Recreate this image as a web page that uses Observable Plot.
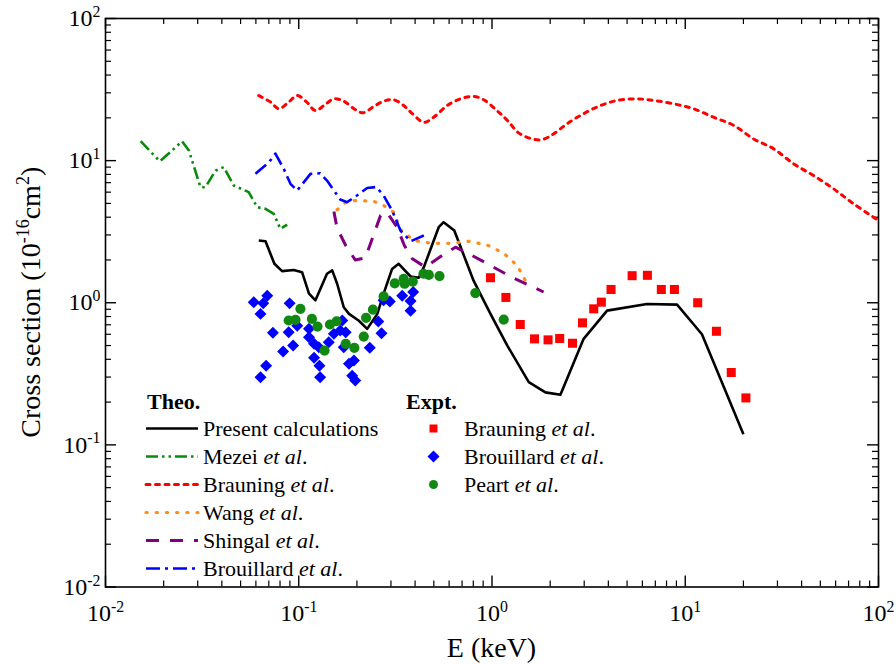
<!DOCTYPE html>
<html>
<head>
<meta charset="utf-8">
<script src="https://cdn.jsdelivr.net/npm/d3@7"></script>
<script src="https://cdn.jsdelivr.net/npm/@observablehq/plot@0.6"></script>
<style>
  html, body { margin: 0; padding: 0; background: #fff; }
  #chart { width: 896px; height: 664px; }
</style>
</head>
<body>
<div id="chart"></div>
<script>
// Cross sections (10^-16 cm^2) against projectile energy E (keV): [E, sigma]
const present = [[0.0621,2.74],[0.0673,2.71],[0.0748,1.88],[0.0820,1.67],[0.0942,1.70],[0.104,1.64],[0.113,1.16],[0.122,1.04],[0.140,1.60],[0.149,1.69],[0.158,1.36],[0.171,0.93],[0.182,0.835],[0.204,0.75],[0.226,0.655],[0.255,0.835],[0.275,1.16],[0.304,1.73],[0.329,1.88],[0.379,1.53],[0.418,1.50],[0.444,1.78],[0.530,3.40],[0.562,3.69],[0.638,3.22],[0.803,1.43],[0.982,0.835],[1.20,0.50],[1.55,0.276],[1.89,0.234],[2.26,0.225],[2.98,0.557],[3.94,0.88],[6.34,0.98],[9.07,0.97],[12.2,0.60],[20.0,0.119]];
const mezei = [[0.0152,13.7],[0.0175,11.2],[0.0191,9.9],[0.0217,11.5],[0.0249,13.7],[0.0270,11.8],[0.0310,6.5],[0.0329,6.5],[0.0371,8.5],[0.0409,9.0],[0.0461,6.68],[0.0551,6.0],[0.0610,4.70],[0.0673,4.58],[0.0743,4.22],[0.0803,3.31],[0.0871,3.55]];
const brauningTheo = [[0.0621,28.7],[0.0715,25.8],[0.0789,23.2],[0.0887,25.8],[0.0982,28.7],[0.110,25.8],[0.122,22.5],[0.137,24.8],[0.152,27.2],[0.171,26.2],[0.193,23.2],[0.215,21.7],[0.244,24.0],[0.275,26.2],[0.310,26.8],[0.349,24.4],[0.387,21.4],[0.444,18.6],[0.499,20.2],[0.586,24.4],[0.687,27.2],[0.803,28.3],[0.906,26.8],[1.06,22.5],[1.20,19.2],[1.40,15.4],[1.78,14.0],[2.08,15.4],[2.45,18.2],[2.98,21.4],[3.64,24.4],[4.44,26.5],[5.63,27.2],[6.87,26.5],[8.71,25.1],[11.0,23.2],[14.0,20.2],[17.8,17.7],[22.6,14.2],[28.7,12.1],[36.4,9.49],[46.1,7.85],[58.6,6.33],[74.3,4.97],[100,3.79]];
const wang = [[0.158,4.51],[0.178,5.18],[0.200,5.24],[0.244,5.18],[0.275,4.83],[0.310,4.33],[0.336,3.27],[0.394,2.74],[0.490,2.62],[0.610,2.62],[0.759,2.71],[0.944,2.55],[1.15,2.23],[1.35,1.83],[1.52,1.36]];
const shingal = [[0.152,4.38],[0.158,3.33],[0.175,2.53],[0.196,2.00],[0.221,2.07],[0.240,2.82],[0.265,4.11],[0.286,4.33],[0.323,3.40],[0.352,2.53],[0.387,2.04],[0.452,1.78],[0.552,2.15],[0.647,2.46],[0.789,2.15],[0.982,1.83],[1.27,1.51],[1.85,1.19]];
const brouillardTheo = [[0.0597,8.07],[0.0700,9.70],[0.0757,11.2],[0.0835,8.8],[0.0906,6.87],[0.0982,6.16],[0.115,8.07],[0.129,8.15],[0.140,7.24],[0.164,5.32],[0.178,5.10],[0.200,5.68],[0.226,6.42],[0.252,6.52],[0.275,5.68],[0.304,4.46],[0.336,3.22],[0.379,2.71],[0.444,2.97]];
const brauningExp = [[0.982,1.50],[1.18,1.09],[1.40,0.703],[1.66,0.557],[1.95,0.548],[2.24,0.560],[2.61,0.519],[2.94,0.722],[3.36,0.906],[3.68,1.01],[4.13,1.24],[5.31,1.55],[6.37,1.56],[7.52,1.24],[8.79,1.24],[11.6,1.00],[14.5,0.63],[17.3,0.323],[20.6,0.214]];
const brouillardExp = [[0.0585,1.01],[0.0687,1.12],[0.0655,0.99],[0.0634,0.835],[0.0735,0.614],[0.0678,0.361],[0.0634,0.299],[0.0830,0.454],[0.0897,0.99],[0.0887,0.62],[0.0935,0.50],[0.0982,0.69],[0.113,0.655],[0.113,0.571],[0.120,0.514],[0.127,0.486],[0.120,0.41],[0.128,0.361],[0.129,0.299],[0.143,0.527],[0.152,0.604],[0.168,0.75],[0.164,0.637],[0.175,0.62],[0.171,0.486],[0.182,0.372],[0.193,0.392],[0.189,0.307],[0.196,0.284],[0.233,0.482],[0.258,0.738],[0.268,0.61],[0.275,1.04],[0.296,1.02],[0.343,1.12],[0.391,1.19],[0.379,1.03],[0.379,0.88]];
const peart = [[0.0887,0.75],[0.0962,0.758],[0.102,0.906],[0.117,0.77],[0.125,0.68],[0.136,0.461],[0.145,0.703],[0.157,0.741],[0.175,0.514],[0.194,0.482],[0.217,0.578],[0.223,0.783],[0.242,0.896],[0.275,1.11],[0.314,1.37],[0.349,1.47],[0.353,1.36],[0.389,1.41],[0.442,1.60],[0.471,1.57],[0.535,1.54],[0.820,1.17],[1.15,0.762]];

// Axis ticks
const majorTicks = [0.01, 0.1, 1, 10, 100];
const minorTicks = [];
for (const decade of [0.01, 0.1, 1, 10]) for (let m = 2; m <= 9; m++) minorTicks.push(+(m * decade).toPrecision(3));

// Legend entries
const theoNames = ["Present calculations", "Mezei", "Brauning", "Wang", "Shingal", "Brouillard"];
const exptNames = ["Brauning", "Brouillard", "Peart"];

// Line styles for the theoretical curves
const lineStyles = [
  {data: present, stroke: "#000000", strokeWidth: 2.6, dash: null, cap: "butt", curve: "linear"},
  {data: mezei, stroke: "#0a8a0a", strokeWidth: 2.6, dash: "12,4,2.5,4,2.5,4", cap: "butt", curve: "linear"},
  {data: brauningTheo, stroke: "#ff0000", strokeWidth: 3, dash: "4,5.5", cap: "round", curve: "catmull-rom"},
  {data: wang, stroke: "#ff8c1a", strokeWidth: 3.2, dash: "1.2,9", cap: "round", curve: "linear"},
  {data: shingal, stroke: "#800080", strokeWidth: 3, dash: "13,11", cap: "butt", curve: "linear"},
  {data: brouillardTheo, stroke: "#0000ff", strokeWidth: 2.6, dash: "14,5,3,5", cap: "butt", curve: "linear"}
];
const dotStyles = [
  {data: brauningExp, fill: "#ff0000", symbol: "square", r: 5.1},
  {data: brouillardExp, fill: "#0000ff", symbol: "diamond2", r: 5.4},
  {data: peart, fill: "#118811", symbol: "circle", r: 5.1}
];

const W = 896, H = 664;
const M = {top: 18, right: 18, bottom: 77.5, left: 105};
const frameW = W - M.left - M.right, frameH = H - M.top - M.bottom;
const majorLen = 11, minorLen = 6;
const serif = "'Liberation Serif', 'Times New Roman', Times, serif";
const exponent = d => String(Math.round(Math.log10(d)));

const tickMarks = (ticks, len, sw) => [
  Plot.ruleX(ticks, {insetTop: frameH - len, stroke: "black", strokeWidth: sw}),
  Plot.ruleX(ticks, {insetBottom: frameH - len, stroke: "black", strokeWidth: sw}),
  Plot.ruleY(ticks, {insetRight: frameW - len, stroke: "black", strokeWidth: sw}),
  Plot.ruleY(ticks, {insetLeft: frameW - len, stroke: "black", strokeWidth: sw})
];

const plot = Plot.plot({
  width: W, height: H,
  marginTop: M.top, marginRight: M.right, marginBottom: M.bottom, marginLeft: M.left,
  x: {type: "log", domain: [0.01, 100]},
  y: {type: "log", domain: [0.01, 100]},
  style: {fontFamily: serif, background: "white", color: "black", overflow: "visible"},
  marks: [
    ...tickMarks(minorTicks, minorLen, 1.2),
    ...tickMarks(majorTicks, majorLen, 1.4),
    Plot.axisX({ticks: majorTicks, tickSize: 0, tickPadding: 17, tickFormat: exponent, fontSize: 24, label: null}),
    Plot.axisY({ticks: majorTicks, tickSize: 0, tickPadding: 5, tickFormat: exponent, fontSize: 24, label: null}),
    ...lineStyles.map(s => Plot.line(s.data, {
      x: d => d[0], y: d => d[1], stroke: s.stroke, strokeWidth: s.strokeWidth,
      strokeDasharray: s.dash, strokeLinecap: s.cap, strokeLinejoin: "round", curve: s.curve
    })),
    ...dotStyles.map(s => Plot.dot(s.data, {
      x: d => d[0], y: d => d[1], fill: s.fill, symbol: s.symbol, r: s.r, stroke: "none"
    })),
    Plot.frame({stroke: "black", strokeWidth: 1.6})
  ]
});

const svg = d3.select(plot);

// Tick labels as powers of ten
svg.selectAll('g[aria-label="x-axis tick label"] text, g[aria-label="y-axis tick label"] text').each(function () {
  const e = this.textContent;
  const t = d3.select(this);
  t.text("10");
  t.append("tspan").attr("dy", "-0.58em").attr("font-size", "0.66em").text(e);
});

// Axis titles
svg.append("text")
  .attr("x", M.left + frameW / 2).attr("y", 657)
  .attr("text-anchor", "middle").attr("font-family", serif).attr("font-size", 28)
  .text("E (keV)");

const yTitle = svg.append("text")
  .attr("transform", `translate(40,${M.top + frameH / 2}) rotate(-90)`)
  .attr("text-anchor", "middle").attr("font-family", serif).attr("font-size", 28);
yTitle.append("tspan").text("Cross section (10");
yTitle.append("tspan").attr("dy", -11).attr("font-size", 18).text("-16");
yTitle.append("tspan").attr("dy", 11).text("cm");
yTitle.append("tspan").attr("dy", -11).attr("font-size", 18).text("2");
yTitle.append("tspan").attr("dy", 11).text(")");

// Legend
const lg = svg.append("g")
  .attr("font-family", serif).attr("font-size", 22).attr("fill", "black")
  .attr("text-anchor", "start");
const rowY = i => 428.5 + i * 28;
const label = (g, x, y, name) => {
  const t = g.append("text").attr("x", x).attr("y", y + 7).attr("text-anchor", "start");
  if (name === "Present calculations") { t.text(name); return; }
  t.append("tspan").text(name + " ");
  t.append("tspan").attr("font-style", "italic").text("et al");
  t.append("tspan").text(".");
};
lg.append("text").attr("x", 147).attr("y", 409).attr("font-weight", "bold").text("Theo.");
theoNames.forEach((name, i) => {
  const s = lineStyles[i];
  lg.append("line").attr("x1", 146).attr("x2", 198).attr("y1", rowY(i)).attr("y2", rowY(i))
    .attr("stroke", s.stroke).attr("stroke-width", s.strokeWidth)
    .attr("stroke-dasharray", s.dash).attr("stroke-linecap", s.cap);
  label(lg, 203, rowY(i), name);
});
lg.append("text").attr("x", 406).attr("y", 409).attr("font-weight", "bold").text("Expt.");
exptNames.forEach((name, i) => {
  const s = dotStyles[i];
  const cx = 433.5, cy = rowY(i);
  if (s.symbol === "square") {
    lg.append("rect").attr("x", cx - 4).attr("y", cy - 4).attr("width", 8).attr("height", 8).attr("fill", s.fill);
  } else if (s.symbol === "diamond2") {
    lg.append("path").attr("d", `M${cx},${cy - 6}L${cx + 6},${cy}L${cx},${cy + 6}L${cx - 6},${cy}Z`).attr("fill", s.fill);
  } else {
    lg.append("circle").attr("cx", cx).attr("cy", cy).attr("r", 4.5).attr("fill", s.fill);
  }
  label(lg, 464, rowY(i), name);
});

document.getElementById("chart").appendChild(plot);
</script>
</body>
</html>
